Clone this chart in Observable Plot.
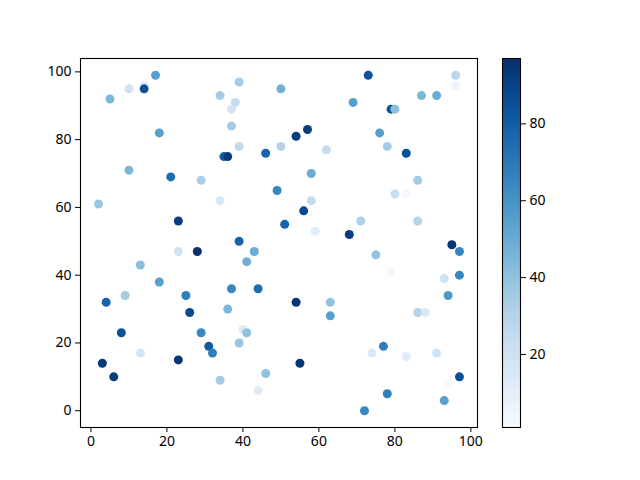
<!DOCTYPE html>
<html>
<head>
<meta charset="utf-8">
<script src="https://cdn.jsdelivr.net/npm/d3@7"></script>
<script src="https://cdn.jsdelivr.net/npm/@observablehq/plot@0.6"></script>
<style>
  body { margin: 0; background: white; }
  #wrap { position: relative; width: 640px; height: 480px; }
  #wrap svg { position: absolute; left: 0; top: 0; }
</style>
</head>
<body>
<div id="wrap"></div>
<script>
const xs = [17,10,14,14,5,18,10,21,29,2,23,39,34,50,38,37,37,39,35,36,46,50,54,57,62,58,49,34,58,56,51,59,39,
  73,96,96,69,87,91,79,80,76,78,83,86,80,83,71,86,68,95,
  23,28,13,18,9,4,25,26,8,29,31,32,13,3,23,6,
  43,41,37,44,54,63,63,36,40,41,39,55,46,34,44,
  97,75,79,93,97,94,86,88,77,74,83,91,97,94,78,93,72];
const ys = [99,95,96,95,92,82,71,69,68,61,56,97,93,95,91,89,84,78,75,75,76,78,81,83,77,70,65,62,62,59,55,53,50,
  99,99,96,91,93,93,89,89,82,78,76,68,64,64,56,56,52,49,
  47,47,43,38,34,32,34,29,23,23,19,17,17,14,15,10,
  47,44,36,36,32,32,28,30,24,23,20,14,11,9,6,
  47,46,41,39,40,34,29,29,19,17,16,17,10,8,5,3,0];
const cs = [55,20,10,85,45,55,45,75,33,38,92,35,35,48,25,18,35,25,80,93,78,30,92,92,25,50,65,15,25,88,78,12,78,
  84,28,6,55,45,50,85,42,55,35,85,35,22,3,32,30,92,95,
  20,97,42,55,35,78,68,88,85,65,82,68,18,93,95,93,
  50,48,65,75,95,40,55,45,14,40,38,95,40,35,12,
  65,40,4,20,65,58,30,15,68,15,12,20,85,1,68,55,65];
const xTicks = [0,20,40,60,80,100];
const yTicks = [0,20,40,60,80,100];
const cbTicks = [20,40,60,80];

const data = xs.map((x, i) => ({x, y: ys[i], c: cs[i]}));
const cDomain = d3.extent(cs);
const font = {fontFamily: "'Noto Sans', sans-serif", fontSize: "14px", color: "black", background: "transparent", overflow: "visible"};

const main = Plot.plot({
  width: 640, height: 480,
  marginLeft: 80, marginRight: 163, marginTop: 58, marginBottom: 53,
  x: {domain: [-2.75, 101.75], label: null},
  y: {domain: [-4.95, 103.95], label: null},
  color: {type: "linear", scheme: "blues", domain: cDomain},
  style: {...font, background: "white"},
  marks: [
    Plot.dot(data, {x: "x", y: "y", fill: "c", r: 4.5}),
    Plot.frame({stroke: "black", strokeWidth: 1.1}),
    Plot.axisX({ticks: xTicks, tickSize: 5, tickPadding: 4, label: null, tickFormat: d => String(d)}),
    Plot.axisY({ticks: yTicks, tickSize: 5, tickPadding: 4, label: null, tickFormat: d => String(d)})
  ]
});

let gradMark;
if (typeof Plot.raster === "function") {
  gradMark = Plot.raster({fill: (x, y) => y, x1: 0, x2: 1, y1: cDomain[0], y2: cDomain[1], width: 1, height: 256, imageRendering: "auto"});
} else {
  const steps = d3.range(cDomain[0], cDomain[1], 0.5);
  gradMark = Plot.rectY(steps, {x1: 0, x2: 1, y1: d => d, y2: d => Math.min(d + 0.6, cDomain[1]), fill: d => d});
}

const cbar = Plot.plot({
  width: 640, height: 480,
  marginLeft: 502, marginRight: 120, marginTop: 58, marginBottom: 53,
  x: {domain: [0, 1], axis: null},
  y: {domain: cDomain, label: null},
  color: {type: "linear", scheme: "blues", domain: cDomain},
  style: font,
  marks: [
    gradMark,
    Plot.frame({stroke: "black", strokeWidth: 1.1}),
    Plot.axisY({anchor: "right", ticks: cbTicks, tickSize: 5, tickPadding: 4, label: null, tickFormat: d => String(d)})
  ]
});

const wrap = document.getElementById("wrap");
wrap.appendChild(main);
wrap.appendChild(cbar);
</script>
</body>
</html>
